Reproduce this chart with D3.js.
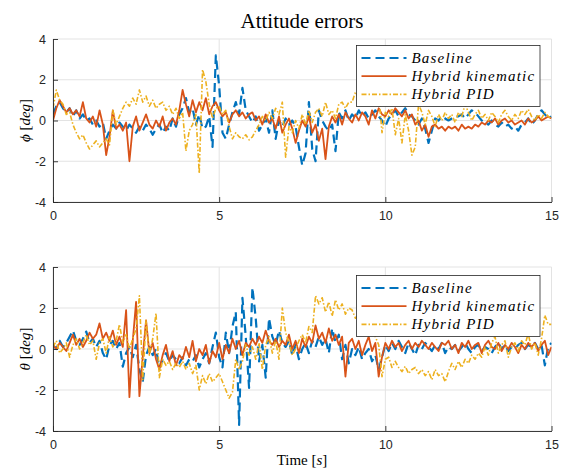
<!DOCTYPE html>
<html><head><meta charset="utf-8">
<script src="https://cdn.jsdelivr.net/npm/d3@7/dist/d3.min.js"></script>
<style>body{margin:0;background:#fff}</style>
</head><body><svg id="c" width="570" height="471"></svg>
<script>
// ---------- data ----------
const sampleStep = 0.1;             // seconds between samples
const xTicks = [0, 5, 10, 15];
const yTicks = [-4, -2, 0, 2, 4];
const seriesNames = ["Baseline", "Hybrid kinematic", "Hybrid PID"];
const titleText = "Attitude errors";

const phiBaseline = [
 0.3,0.7,0.9,0.6,0.4,0.6,0.2,0.5,0.1,0.3,
 0.0,0.1,-0.2,0.0,-0.3,-0.1,-0.9,-0.5,-0.2,-0.4,
 -0.1,-0.3,-0.5,-0.2,-0.4,-0.6,-0.3,-0.5,-0.2,-0.4,
 -0.7,-0.4,-0.2,-0.6,-0.3,-0.5,0.1,-0.3,0.3,0.6,
 1.1,0.4,0.6,-0.2,0.3,-0.4,-0.3,0.2,-1.3,3.2,
 1.7,-0.6,-0.9,-0.2,0.4,0.9,0.3,1.6,0.5,0.2,
 -0.1,0.2,-0.5,-0.2,0.1,-0.6,0.5,-0.9,0.0,-0.3,
 0.1,-0.2,0.0,-0.3,-1.3,-2.2,-1.6,0.9,-1.4,-2.0,
 0.5,0.0,-0.3,-0.5,-0.2,-1.5,0.4,0.1,0.5,0.0,
 0.3,0.1,0.5,0.2,0.4,0.1,0.3,0.5,0.2,0.0,
 -0.3,0.1,0.3,0.5,0.2,0.4,0.6,0.3,0.2,0.0,
 -0.2,0.1,-0.4,-1.1,-0.5,0.1,0.0,0.2,0.1,0.0,
 0.1,0.2,0.2,0.3,0.1,0.3,0.5,0.4,0.2,0.0,
 -0.1,-0.2,0.0,-0.2,-0.3,-0.1,-0.3,-0.2,-0.4,-0.3,
 -0.5,-0.2,-0.1,0.1,-0.2,0.0,0.3,0.5,0.3,0.1,
 0.2];
const phiKinematic = [
 0.0,0.6,1.0,0.7,0.4,0.6,0.3,0.5,0.2,0.9,
 0.1,-0.1,0.2,-0.3,0.5,-0.2,-1.7,-0.8,0.5,-0.4,
 -0.2,-0.5,-0.1,-2.0,-0.3,0.2,-0.5,-0.1,0.3,-0.2,
 -0.4,0.0,-0.3,0.2,-0.5,-0.1,0.1,-0.2,0.5,1.5,
 0.8,0.2,1.0,0.4,0.9,0.5,1.1,0.3,0.7,0.9,
 0.5,0.2,0.4,-0.1,0.3,0.5,0.2,0.4,0.1,0.3,
 0.4,0.0,0.2,-0.2,0.3,-0.1,0.1,-0.4,0.2,-0.6,
 -0.2,0.1,-0.4,-1.1,-0.5,0.0,-0.3,0.2,-0.6,-0.2,
 -1.0,-0.4,-1.9,-0.3,0.2,-0.1,0.3,-0.2,0.4,0.1,
 -0.1,0.3,0.0,0.4,0.2,-0.2,0.5,0.1,0.6,0.3,
 0.2,0.5,0.3,0.6,0.4,0.2,0.5,0.1,0.3,-0.2,
 0.0,-0.5,-0.2,-0.8,-0.3,-0.2,-0.4,-0.3,-0.5,-0.3,
 -0.4,-0.3,-0.5,-0.2,-0.4,-0.3,-0.4,-0.2,-0.3,-0.1,
 -0.2,0.0,-0.1,0.1,-0.2,0.0,0.1,-0.1,0.0,-0.2,
 -0.1,0.0,-0.2,0.1,-0.1,0.0,0.2,0.0,0.1,0.2,
 0.1];
const phiPID = [
 0.6,1.5,1.0,0.8,0.3,0.4,-0.2,-0.6,-0.9,-0.7,
 -1.1,-1.4,-1.2,-1.0,-1.3,-1.1,-0.9,-1.2,0.5,-0.2,
 0.2,0.6,0.9,0.7,1.1,0.8,1.5,0.9,1.2,0.7,
 1.0,0.6,0.8,0.9,0.5,0.7,0.3,0.6,0.1,0.4,
 -1.5,-0.5,-0.2,0.3,-2.6,2.5,1.9,0.8,0.1,0.6,
 0.7,0.3,0.5,-0.3,-0.9,-0.6,-0.8,-0.9,-0.7,-0.95,
 -0.8,-0.5,-0.2,0.2,0.0,0.4,0.1,0.6,0.3,0.9,
 -1.8,-0.3,-0.6,0.0,-0.4,0.3,-0.2,0.5,-0.1,0.4,
 0.6,0.2,0.9,0.3,0.5,0.1,0.8,0.9,0.6,0.9,
 0.9,1.4,1.1,1.3,0.9,1.5,1.2,0.8,1.3,-0.6,
 0.4,0.2,0.6,-0.7,0.1,-1.1,0.3,-0.5,-1.7,-1.3,
 0.8,0.4,-0.2,0.5,0.2,-0.3,0.3,0.0,0.4,0.1,
 0.3,-0.1,0.4,0.2,0.8,0.4,0.0,0.3,0.5,0.1,
 0.3,0.0,0.4,0.2,-0.1,0.3,0.5,0.2,0.0,0.3,
 0.1,0.5,0.3,0.55,0.2,0.0,0.3,0.1,0.4,0.2,
 0.1];

const thetaBaseline = [
 0.2,0.0,0.4,0.1,0.3,0.6,0.9,0.4,0.2,0.5,
 0.85,0.3,0.5,0.1,0.4,-0.2,-0.5,0.2,0.4,0.0,
 0.3,-0.86,-0.2,0.1,-0.4,0.2,-1.0,-1.6,-0.3,0.1,
 -0.3,0.0,-0.9,-0.5,-0.2,-0.6,-0.3,-0.5,-0.7,-0.4,
 -0.8,-0.5,-0.6,-0.3,-0.9,-0.5,-0.2,-0.7,0.1,0.8,
 -0.4,-0.9,0.8,-0.2,1.1,1.8,-3.7,2.5,0.6,-1.9,
 3.0,1.5,-0.6,0.2,-1.4,1.5,0.6,0.2,0.9,0.3,
 0.1,0.4,-0.3,0.2,-0.5,0.0,0.3,-0.2,0.4,0.1,
 0.6,0.2,0.5,-0.2,1.0,0.3,0.7,-0.5,0.2,-0.7,
 0.0,-0.3,0.1,-0.5,-0.2,0.0,-0.6,-0.3,-1.0,-0.4,
 0.2,-0.1,0.3,0.0,0.4,0.1,-0.2,0.3,0.0,-0.3,
 0.2,0.0,0.3,0.1,-0.1,0.2,0.0,0.3,-0.2,0.1,
 0.0,0.2,-0.1,0.1,0.3,0.0,-0.2,0.1,0.2,-0.1,
 0.1,0.0,-0.2,0.1,0.3,0.0,0.2,-0.1,0.1,0.0,
 0.2,0.3,0.0,0.2,0.1,0.3,0.0,0.2,-0.8,0.1,
 0.3];
const thetaKinematic = [
 0.2,0.0,0.3,0.1,-0.1,0.3,0.7,0.2,0.5,0.1,
 0.4,0.8,0.5,0.7,1.25,0.5,0.8,0.4,0.9,0.2,
 0.6,0.1,1.9,-2.35,0.4,2.3,-2.3,-0.4,1.4,-0.2,
 0.3,-0.5,-1.0,-0.3,0.2,-0.6,-0.1,-0.8,-0.3,-0.5,
 0.1,-0.4,0.4,-0.6,0.0,-0.3,0.2,-0.7,-0.1,-0.4,
 0.3,-0.5,0.2,-0.2,0.5,0.0,0.4,-0.3,0.3,0.1,
 0.5,0.2,0.6,0.3,0.9,0.4,0.2,0.5,0.1,0.4,
 0.2,0.7,0.0,0.4,-0.2,0.5,0.1,0.6,0.3,1.15,
 0.5,0.8,0.3,1.0,0.4,0.7,0.2,0.6,-1.35,0.3,
 0.5,0.0,0.4,-0.3,0.2,0.6,-0.1,0.3,-1.35,-0.4,
 0.3,0.0,0.4,0.1,0.3,-0.1,0.2,0.4,0.0,0.3,
 0.1,0.4,0.2,0.0,0.3,0.1,-0.1,0.3,0.2,0.4,
 0.0,0.2,-0.2,0.3,0.1,0.4,0.0,0.2,0.3,-0.2,
 0.2,0.4,0.1,0.0,0.3,-0.1,0.2,0.0,0.3,0.1,
 -0.2,0.2,0.0,0.3,0.1,0.3,-0.1,0.2,0.4,-0.3,
 0.1];
const thetaPID = [
 0.1,0.4,-0.2,0.0,0.3,-0.4,0.2,0.5,0.0,0.3,
 0.7,0.2,0.4,-0.5,0.3,0.5,-0.2,0.6,0.1,0.4,
 1.2,0.3,0.7,0.0,0.5,1.0,2.6,-1.5,1.4,-0.3,
 0.5,1.75,-1.4,-0.5,-0.8,-0.6,-1.0,-0.7,-0.9,-0.6,
 -1.0,-0.7,-1.2,-0.8,-2.0,-1.3,-1.7,-1.2,-1.6,-1.4,
 -1.2,-1.6,-2.0,-2.4,-2.1,-0.5,-1.0,-0.6,0.2,-0.3,
 0.1,-0.5,0.3,-1.0,0.2,0.6,-0.2,0.4,-0.5,2.0,
 0.8,0.3,-0.3,0.0,0.4,0.7,0.3,1.1,0.8,2.6,
 2.2,2.5,1.8,2.3,1.6,2.4,1.9,2.2,1.7,2.0,
 1.9,1.5,1.7,1.2,1.4,0.9,1.0,0.6,0.2,-1.35,
 -0.5,-0.4,-0.9,-0.6,-0.9,-1.1,-0.85,-1.2,-1.0,-0.9,
 -1.2,-1.0,-1.3,-1.1,-1.5,-1.0,-1.3,-1.2,-1.6,-1.1,
 -0.7,-1.0,-0.6,-0.9,-0.5,-0.7,-0.3,-0.5,-0.2,-0.4,
 0.1,-0.3,0.3,0.6,-0.2,0.2,0.4,-0.4,0.1,0.3,
 -0.1,0.4,0.2,0.75,0.0,0.3,-0.3,0.5,1.65,1.2,
 1.2];

// ---------- drawing ----------
const svg = d3.select("#c");
const colors = ["#0072BD", "#D95319", "#EDB120"];
const widths = [2.2, 1.8, 1.6];
const dashes = ["9,5", null, "5,2,1.5,2"];
const axisColor = "#262626";
const gridColor = "#e3e3e3";
const serif = "'Liberation Serif', 'DejaVu Serif', serif";

const x = d3.scaleLinear().domain([0, 15]).range([53, 551.5]);

const panels = [
  { top: 39, bottom: 202, sym: "\u03D5", data: [phiBaseline, phiKinematic, phiPID], legendTop: 45.5 },
  { top: 267, bottom: 431, sym: "\u03B8", data: [thetaBaseline, thetaKinematic, thetaPID], legendTop: 275.5 }
];

// title
svg.append("text").attr("x", 302).attr("y", 28).attr("text-anchor", "middle")
  .attr("font-family", serif).attr("font-size", 21).attr("fill", "#000")
  .text(titleText);

panels.forEach((p, pi) => {
  const y = d3.scaleLinear().domain([-4, 4]).range([p.bottom, p.top]);
  const g = svg.append("g");

  // grid
  g.selectAll(".gx").data(xTicks).join("line")
    .attr("x1", d => x(d)).attr("x2", d => x(d)).attr("y1", p.top).attr("y2", p.bottom)
    .attr("stroke", gridColor).attr("stroke-width", 1);
  g.selectAll(".gy").data(yTicks).join("line")
    .attr("y1", d => y(d)).attr("y2", d => y(d)).attr("x1", x(0)).attr("x2", x(15))
    .attr("stroke", gridColor).attr("stroke-width", 1);

  // clip
  const cid = "clip" + pi;
  svg.append("clipPath").attr("id", cid).append("rect")
    .attr("x", x(0)).attr("y", p.top).attr("width", x(15) - x(0)).attr("height", p.bottom - p.top);

  const line = d3.line().x((d, i) => x(i * sampleStep)).y(d => y(d));
  const lg = svg.append("g").attr("clip-path", `url(#${cid})`);
  p.data.forEach((arr, si) => {
    lg.append("path").datum(arr).attr("d", line).attr("fill", "none")
      .attr("stroke", colors[si]).attr("stroke-width", widths[si])
      .attr("stroke-dasharray", dashes[si]).attr("stroke-linejoin", "round");
  });

  // axes
  const ax = svg.append("g").attr("transform", `translate(0,${p.bottom})`)
    .call(d3.axisBottom(x).tickValues(xTicks).tickFormat(d => String(d)).tickSizeInner(-5).tickSizeOuter(0).tickPadding(9));
  const ay = svg.append("g").attr("transform", `translate(${x(0)},0)`)
    .call(d3.axisLeft(y).tickValues(yTicks).tickFormat(d => String(d)).tickSizeInner(-5).tickSizeOuter(0).tickPadding(7));
  [ax, ay].forEach(a => {
    a.select(".domain").attr("stroke", axisColor).attr("stroke-width", 0.9);
    a.selectAll(".tick line").attr("stroke", axisColor).attr("stroke-width", 0.9);
    a.selectAll(".tick text").attr("fill", axisColor).attr("font-family", "'Liberation Sans', Arial, sans-serif").attr("font-size", 12.5);
  });

  // y label
  const cy = (p.top + p.bottom) / 2;
  const yl = svg.append("text").attr("transform", `translate(30,${cy}) rotate(-90)`)
    .attr("text-anchor", "middle").attr("font-family", serif).attr("font-size", 15).attr("fill", "#000");
  yl.append("tspan").attr("font-style", "italic").text(p.sym);
  yl.append("tspan").text(" [");
  yl.append("tspan").attr("font-style", "italic").text("deg");
  yl.append("tspan").text("]");

  // legend
  const lx0 = 356.5, lx1 = 540, lh = 61;
  const leg = svg.append("g");
  leg.append("rect").attr("x", lx0).attr("y", p.legendTop).attr("width", lx1 - lx0).attr("height", lh)
    .attr("fill", "#fff").attr("stroke", axisColor).attr("stroke-width", 0.8);
  seriesNames.forEach((name, si) => {
    const ry = p.legendTop + 12.5 + si * 18.2;
    leg.append("line").attr("x1", lx0 + 5).attr("x2", lx0 + 50).attr("y1", ry).attr("y2", ry)
      .attr("stroke", colors[si]).attr("stroke-width", widths[si]).attr("stroke-dasharray", dashes[si]);
    leg.append("text").attr("x", lx0 + 55).attr("y", ry + 5)
      .attr("font-family", serif).attr("font-style", "italic").attr("font-size", 15)
      .attr("letter-spacing", 1.2).attr("fill", "#000").text(name);
  });
});

// x label
const xl = svg.append("text").attr("x", 302).attr("y", 465).attr("text-anchor", "middle")
  .attr("font-family", serif).attr("font-size", 15).attr("fill", "#000");
xl.append("tspan").text("Time [");
xl.append("tspan").attr("font-style", "italic").text("s");
xl.append("tspan").text("]");
</script>
</body></html>
